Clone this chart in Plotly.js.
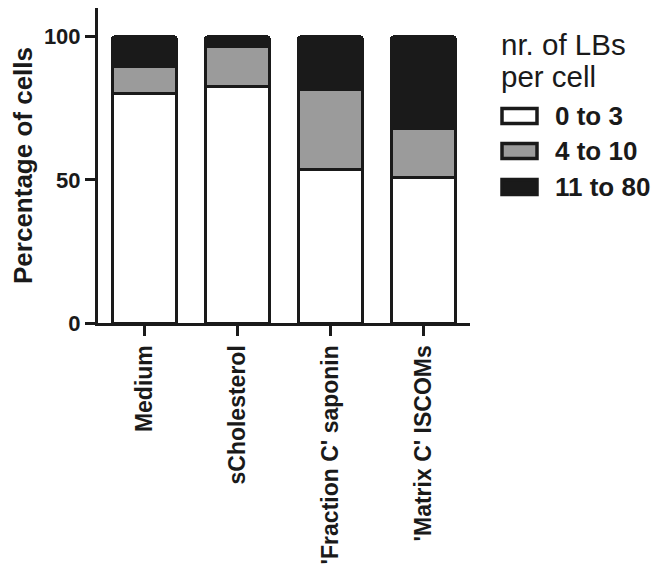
<!DOCTYPE html>
<html>
<head>
<meta charset="utf-8">
<script src="https://cdn.plot.ly/plotly-3.0.1.min.js"></script>
<style>html,body{margin:0;padding:0;background:#fff;}#chart{width:655px;height:572px;}</style>
</head>
<body>
<div id="chart"></div>
<script>
// ---- data ----
var categories = ["Medium", "sCholesterol", "'Fraction C' saponin", "'Matrix C' ISCOMs"];
var seriesNames = ["0 to 3", "4 to 10", "11 to 80"];
var low = [80.0, 82.7, 53.5, 50.8];      // 0 to 3
var mid = [9.5, 14.0, 27.9, 17.0];       // 4 to 10
var high = [10.5, 3.3, 18.6, 32.2];      // 11 to 80
var yTicks = [0, 50, 100];
var legendTitleLines = ["nr. of LBs", "per cell"];
var yTitle = "Percentage of cells";

// ---- styling ----
var fillColors = ["#ffffff", "#9b9b9b", "#1a1a1a"];
var ink = "#1a1a1a";
var FONT = "Liberation Sans, Arial, Helvetica, sans-serif";
var seriesValues = [low, mid, high];

var traces = seriesValues.map(function (vals, i) {
  var t = {
    type: "bar",
    name: seriesNames[i],
    x: categories,
    y: vals,
    width: 0.69,
    marker: { color: fillColors[i], line: { color: ink, width: 3 } },
    showlegend: false,
    hoverinfo: "skip"
  };
  if (i === 2) t.marker.cornerradius = 3;
  return t;
});

// margins / geometry (pixels)
var M = { l: 98, r: 185, t: 8, b: 249 };
var W = 655, H = 572;
var pw = W - M.l - M.r, ph = H - M.t - M.b;
function px2x(px) { return (px - M.l) / pw; }
function py2y(py) { return (H - M.b - py) / ph; }

var shapes = [], annotations = [];
var legendRows = [116, 151, 187];
seriesNames.forEach(function (name, i) {
  var cy = legendRows[i];
  shapes.push({
    type: "rect", xref: "paper", yref: "paper",
    x0: px2x(502), x1: px2x(537), y0: py2y(cy + 7.5), y1: py2y(cy - 7.5),
    fillcolor: fillColors[i], line: { color: ink, width: 3.5 }
  });
  annotations.push({
    xref: "paper", yref: "paper", x: px2x(553), y: py2y(cy),
    xanchor: "left", yanchor: "middle", showarrow: false,
    text: "<b>" + name + "</b>",
    font: { family: FONT, size: 26, color: ink }
  });
});
var titleRows = [44, 76];
legendTitleLines.forEach(function (line, i) {
  annotations.push({
    xref: "paper", yref: "paper", x: px2x(499), y: py2y(titleRows[i]),
    xanchor: "left", yanchor: "middle", align: "left", showarrow: false,
    text: line,
    font: { family: FONT, size: 29.5, color: ink }
  });
});

var layout = {
  width: W, height: H,
  margin: M,
  paper_bgcolor: "#ffffff", plot_bgcolor: "#ffffff",
  barmode: "stack",
  showlegend: false,
  font: { family: FONT, color: ink },
  xaxis: {
    type: "category",
    range: [-0.5, 3.5],
    showline: true, linecolor: ink, linewidth: 3,
    ticks: "outside", ticklen: 10, tickwidth: 3, tickcolor: ink,
    tickangle: -90,
    tickfont: { family: FONT, size: 23, color: ink, weight: "bold" },
    showgrid: false, zeroline: false, automargin: false
  },
  yaxis: {
    range: [0, 110],
    tickvals: yTicks,
    ticktext: yTicks.map(function (v) { return String(v); }),
    showline: true, linecolor: ink, linewidth: 3,
    ticks: "outside", ticklen: 10, tickwidth: 3, tickcolor: ink,
    tickfont: { family: FONT, size: 22, color: ink, weight: "bold" },
    showgrid: false, zeroline: false, automargin: false,
    title: { text: "<b>" + yTitle + "</b>", font: { family: FONT, size: 26, color: ink }, standoff: 4 }
  },
  shapes: shapes,
  annotations: annotations
};

Plotly.newPlot("chart", traces, layout, { staticPlot: true, displayModeBar: false });
</script>
</body>
</html>
